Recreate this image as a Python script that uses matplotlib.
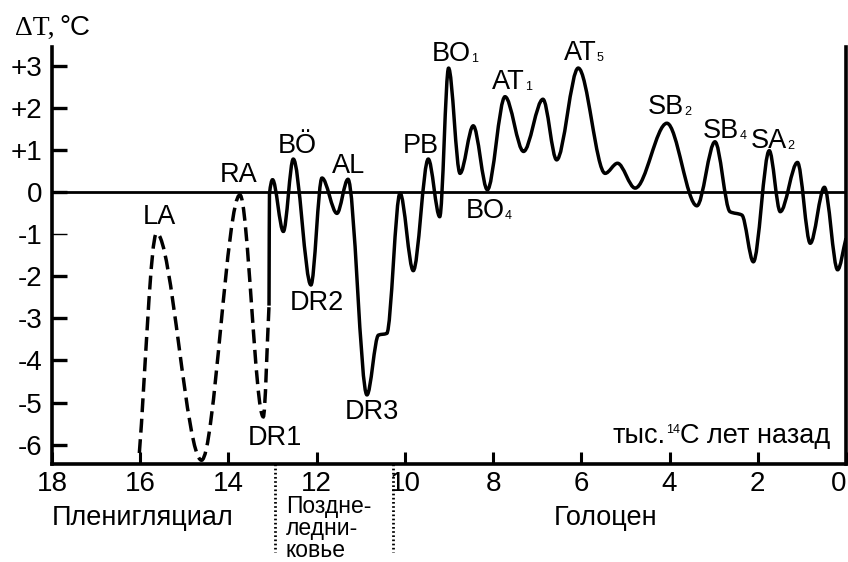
import numpy as np
import matplotlib.pyplot as plt
from matplotlib.path import Path
from matplotlib.patches import PathPatch

plt.rcParams['font.family'] = ['Liberation Sans', 'DejaVu Sans']

# reconstructed (dashed) part: age, thousand 14C years ago / temperature anomaly, deg C
dash_age = [16.02, 15.63, 14.61, 13.74, 13.21, 13.08]
dash_dt = [-6.2, -0.98, -6.37, -0.07, -5.34, -2.7]

# measured (solid) part
solid_age = [13.08, 13.07, 13.0, 12.755, 12.53, 12.13, 11.88, 11.54, 11.29, 10.86,
             10.60, 10.41, 10.11, 9.81, 9.47, 9.21, 9.01, 8.75, 8.45, 8.13,
             7.73, 7.31, 6.87, 6.56, 6.07, 5.46, 5.18, 4.78, 4.06, 3.38,
             2.97, 2.63, 2.36, 2.10, 1.74, 1.49, 1.10, 0.81, 0.49, 0.19, 0.0]
solid_dt = [-2.7, -0.05, 0.29, -0.94, 0.78, -2.21, 0.33, -0.51, 0.30, -4.82,
            -3.40, -3.36, -0.03, -1.87, 0.78, -0.59, 2.94, 0.44, 1.57, 0.05,
            2.26, 0.96, 2.20, 0.76, 2.94, 0.44, 0.68, 0.09, 1.63, -0.33,
            1.19, -0.47, -0.55, -1.66, 0.98, -0.47, 0.70, -1.22, 0.11, -1.85, -1.1]

# event labels: name, subscript, age, baseline
lab_name = ['LA', 'RA', 'BÖ', 'AL', 'DR2', 'DR3', 'DR1', 'PB', 'BO', 'AT', 'AT', 'BO', 'SB', 'SB', 'SA']
lab_sub = ['', '', '', '', '', '', '', '', '1', '1', '5', '4', '2', '4', '2']
lab_age = [15.57, 13.77, 12.45, 11.28, 12.0, 10.75, 12.94, 9.64, 8.94, 7.65, 6.03, 8.18, 4.08, 2.83, 1.74]
lab_dt = [-0.76, 0.245, 0.92, 0.46, -2.80, -5.38, -6.01, 0.93, 3.10, 2.44, 3.14, -0.62, 1.85, 1.28, 1.04]

xticks = [18, 16, 14, 12, 10, 8, 6, 4, 2, 0]
yticks = [3, 2, 1, 0, -1, -2, -3, -4, -5, -6]
ytick_labels = ['+3', '+2', '+1', '0', '-1', '-2', '-3', '-4', '-5', '-6']

# period boundaries
bounds = [12.94, 10.27]
late_glacial = ['Поздне-', 'ледни-', 'ковье']


def smooth_path(xs, ys):
    # monotone cubic through the read points, drawn as bezier curves
    x = np.asarray(xs, float)
    y = np.asarray(ys, float)
    h = np.diff(x)
    d = np.diff(y) / h
    m = np.zeros_like(y)
    m[0] = d[0]
    m[-1] = d[-1]
    for i in range(1, len(y) - 1):
        if d[i - 1] * d[i] > 0:
            m[i] = 2 / (1 / d[i - 1] + 1 / d[i])
    verts = [(x[0], y[0])]
    codes = [Path.MOVETO]
    for i in range(len(h)):
        verts += [(x[i] + h[i] / 3, y[i] + m[i] * h[i] / 3),
                  (x[i + 1] - h[i] / 3, y[i + 1] - m[i + 1] * h[i] / 3),
                  (x[i + 1], y[i + 1])]
        codes += [Path.CURVE4] * 3
    return Path(verts, codes)


fig = plt.figure(figsize=(8.48, 5.62), dpi=100)
ax = fig.add_axes([52 / 848, 1 - 464 / 562, 794 / 848, 417 / 562])
ax.set_xlim(18, 0)
ax.set_ylim(-6.46, 3.44)

ax.axhline(0, color='black', lw=2.0, zorder=1)
ax.add_patch(PathPatch(smooth_path(dash_age, dash_dt), fill=False, lw=2.5,
                       ls=(0, (4, 1.9)), color='black', zorder=3))
ax.add_patch(PathPatch(smooth_path(solid_age, solid_dt), fill=False, lw=2.5,
                       color='black', zorder=3, joinstyle='round'))

ax.spines['top'].set_visible(False)
for s in ['left', 'bottom', 'right']:
    ax.spines[s].set_linewidth(2.6)

ax.set_xticks(xticks)
ax.set_xticklabels([str(t) for t in xticks])
ax.set_yticks(yticks)
ax.set_yticklabels(ytick_labels)
ax.tick_params(axis='y', direction='in', length=11, width=2.4, labelsize=20, pad=7)
ax.tick_params(axis='x', direction='in', length=8.5, width=2.2, labelsize=20, pad=5)
tk = ax.yaxis.get_major_ticks()[4]
tk.tick1line.set_color('#999999')
tk.tick1line.set_markeredgewidth(1.0)
# last label sits at the right edge
ax.get_xticklabels()[-1].set_horizontalalignment('right')

for name, sub, xa, ya in zip(lab_name, lab_sub, lab_age, lab_dt):
    t = ax.text(xa, ya, name, ha='center', va='baseline', fontsize=19.5)
    if sub:
        ax.annotate(sub, xy=(1, 0), xycoords=t, xytext=(0, 3.5), textcoords='offset points',
                    ha='left', va='baseline', fontsize=9)

# x axis units
t1 = ax.text(5.30, -5.96, 'тыс.', ha='left', va='baseline', fontsize=19.5)
t2 = ax.annotate('14', xy=(1, 1), xycoords=t1, xytext=(0.5, -1), textcoords='offset points',
                 ha='left', va='top', fontsize=9)
ax.annotate('С лет назад', xy=(1, 0), xycoords=(t2, t1), xytext=(0, 0),
            textcoords='offset points', ha='left', va='bottom', fontsize=19.5)

# y axis title
y1 = ax.text(-0.047, 1.029, 'ΔT,', transform=ax.transAxes, ha='left', va='baseline',
             fontsize=20, family='Liberation Serif')
ax.annotate('°C', xy=(1, 0), xycoords=y1, xytext=(4, 0), textcoords='offset points',
            ha='left', va='bottom', fontsize=20)

# period dividers and names
trans = ax.get_xaxis_transform()
for b in bounds:
    ax.plot([b, b], [0, -0.211], transform=trans, color='black', lw=2.0,
            ls=(0, (0.6, 0.9)), clip_on=False)
ax.text(15.94, -0.13, 'Пленигляциал', transform=trans, ha='center', va='center', fontsize=19.5)
for line, yb in zip(late_glacial, [-0.1175, -0.1703, -0.223]):
    ax.text(12.70, yb, line, transform=trans, ha='left', va='baseline', fontsize=16.5)
ax.text(5.45, -0.13, 'Голоцен', transform=trans, ha='center', va='center', fontsize=19.5)

fig.savefig('out.png', dpi=100)
